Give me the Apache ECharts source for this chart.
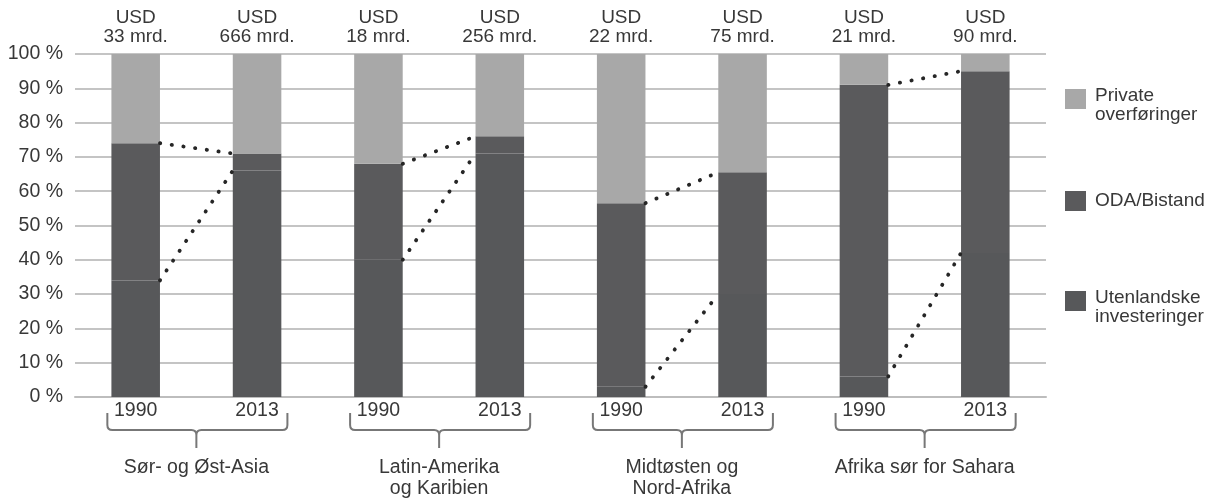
<!DOCTYPE html>
<html>
<head>
<meta charset="utf-8">
<script src="https://cdn.jsdelivr.net/npm/echarts@6/dist/echarts.min.js"></script>
<style>
html,body{margin:0;padding:0;background:#fff;}
#c{width:1218px;height:501px;}
</style>
</head>
<body>
<div id="c"></div>
<script>
// ---- data ----
const years = ['1990', '2013', '1990', '2013', '1990', '2013', '1990', '2013'];
const regions = ['Sør- og Øst-Asia', 'Latin-Amerika\nog Karibien', 'Midtøsten og\nNord-Afrika', 'Afrika sør for Sahara'];
const totalsUSD = [33, 666, 18, 256, 22, 75, 21, 90];
const investeringer = [34, 66, 40, 71, 3, 30, 6, 42];
const bistand = [40, 5, 28, 5, 53.5, 35.5, 85, 53];
const privateOverf = [26, 29, 32, 24, 43.5, 34.5, 9, 5];
const yTicks = [0, 10, 20, 30, 40, 50, 60, 70, 80, 90, 100];
const seriesNames = ['Private\noverføringer', 'ODA/Bistand', 'Utenlandske\ninvesteringer'];

// ---- derived ----
const FONT = 'Liberation Sans, Arial, sans-serif';
const TXT = '#383838';
const upperLines = [], lowerLines = [];
for (let g = 0; g < regions.length; g++) {
  const a = 2 * g, b = 2 * g + 1;
  upperLines.push([a, investeringer[a] + bistand[a], b, investeringer[b] + bistand[b]]);
  lowerLines.push([a, investeringer[a], b, investeringer[b]]);
}
const groupIdx = regions.map((_, i) => [i, 0]);

function dotted(params, api) {
  const p1 = api.coord([api.value(0), api.value(1)]);
  const p2 = api.coord([api.value(2), api.value(3)]);
  const hw = api.size([1, 0])[0] * 0.2;
  return {
    type: 'line',
    shape: { x1: p1[0] + hw, y1: p1[1], x2: p2[0] - hw, y2: p2[1] },
    style: { stroke: '#262626', lineWidth: 3.8, lineDash: [0.3, 11.5], lineCap: 'round', fill: null }
  };
}
function brace(params, api) {
  const c = api.coord([api.value(0), api.value(1)]);
  const band = api.size([1, 0])[0];
  const half = band / 2 * 0.75;
  const cx = c[0], y0 = c[1];
  const L = cx - half + 2, R = cx + half;
  const t = y0 + 16, h = y0 + 33, s = y0 + 51, r = 5;
  const d = `M${L},${t} L${L},${h - r} Q${L},${h} ${L + r},${h} L${cx - r},${h} Q${cx},${h} ${cx},${h + r} L${cx},${s} ` +
            `M${cx},${h + r} Q${cx},${h} ${cx + r},${h} L${R - r},${h} Q${R},${h} ${R},${h - r} L${R},${t}`;
  return { type: 'path', shape: { pathData: d }, style: { fill: null, stroke: '#777', lineWidth: 2 } };
}

function legendAt(name, top, twoLine) {
  return {
    data: [name], left: 1060, top: top, orient: 'vertical', icon: 'rect',
    itemWidth: 21, itemHeight: 20, itemGap: 0, selectedMode: false,
    formatter: n => twoLine ? '{p|}\n' + n : n,
    textStyle: {
      fontFamily: FONT, fontSize: 19, lineHeight: 19, color: TXT, padding: [0, 0, 0, 4],
      rich: { p: { lineHeight: 12, fontSize: 10 } }
    }
  };
}

const chart = echarts.init(document.getElementById('c'), null, { renderer: 'canvas' });
chart.setOption({
  animation: false,
  backgroundColor: '#fff',
  textStyle: { fontFamily: FONT },
  grid: { left: 75, right: 172, top: 54, bottom: 104 },
  legend: [
    legendAt(seriesNames[0], 69, true),
    legendAt(seriesNames[1], 186, false),
    legendAt(seriesNames[2], 271, true)
  ],
  xAxis: [
    {
      type: 'category', data: years, position: 'bottom',
      axisLine: { lineStyle: { color: '#bdbdbd', width: 2 } },
      axisTick: { show: false },
      axisLabel: { fontSize: 19.5, color: TXT, margin: 4, interval: 0, fontFamily: FONT }
    },
    {
      type: 'category', data: regions, position: 'bottom', offset: 57,
      axisLine: { show: false }, axisTick: { show: false },
      axisLabel: { fontSize: 19.5, lineHeight: 21, color: TXT, margin: 3, interval: 0, fontFamily: FONT, verticalAlign: 'top' }
    }
  ],
  yAxis: {
    type: 'value', min: yTicks[0], max: yTicks[yTicks.length - 1], interval: 10,
    axisLine: { show: false }, axisTick: { show: false },
    axisLabel: { formatter: '{value} %', fontSize: 19.5, color: TXT, margin: 12, fontFamily: FONT },
    splitLine: { lineStyle: { color: '#c4c4c4', width: 2 } }
  },
  series: [
    {
      name: seriesNames[2], type: 'bar', stack: 's', barWidth: '40%', data: investeringer,
      itemStyle: { color: '#57585a' }
    },
    {
      name: seriesNames[1], type: 'bar', stack: 's', barWidth: '40%', data: bistand,
      itemStyle: { color: '#5a5a5c' }
    },
    {
      name: seriesNames[0], type: 'bar', stack: 's', barWidth: '40%', data: privateOverf,
      itemStyle: { color: '#a8a8a8' },
      label: {
        show: true, position: 'top', distance: 8, fontSize: 19, lineHeight: 19, color: TXT, fontFamily: FONT,
        formatter: p => 'USD\n' + totalsUSD[p.dataIndex] + ' mrd.'
      }
    },
    {
      type: 'custom', xAxisIndex: 0, renderItem: dotted, data: upperLines, silent: true, clip: false, z: 5,
      encode: { x: [0, 2], y: [1, 3] }
    },
    {
      type: 'custom', xAxisIndex: 0, renderItem: dotted, data: lowerLines, silent: true, clip: false, z: 5,
      encode: { x: [0, 2], y: [1, 3] }
    },
    {
      type: 'custom', xAxisIndex: 1, renderItem: brace, data: groupIdx, silent: true, clip: false,
      encode: { x: 0, y: 1 }
    }
  ]
});
</script>
</body>
</html>
